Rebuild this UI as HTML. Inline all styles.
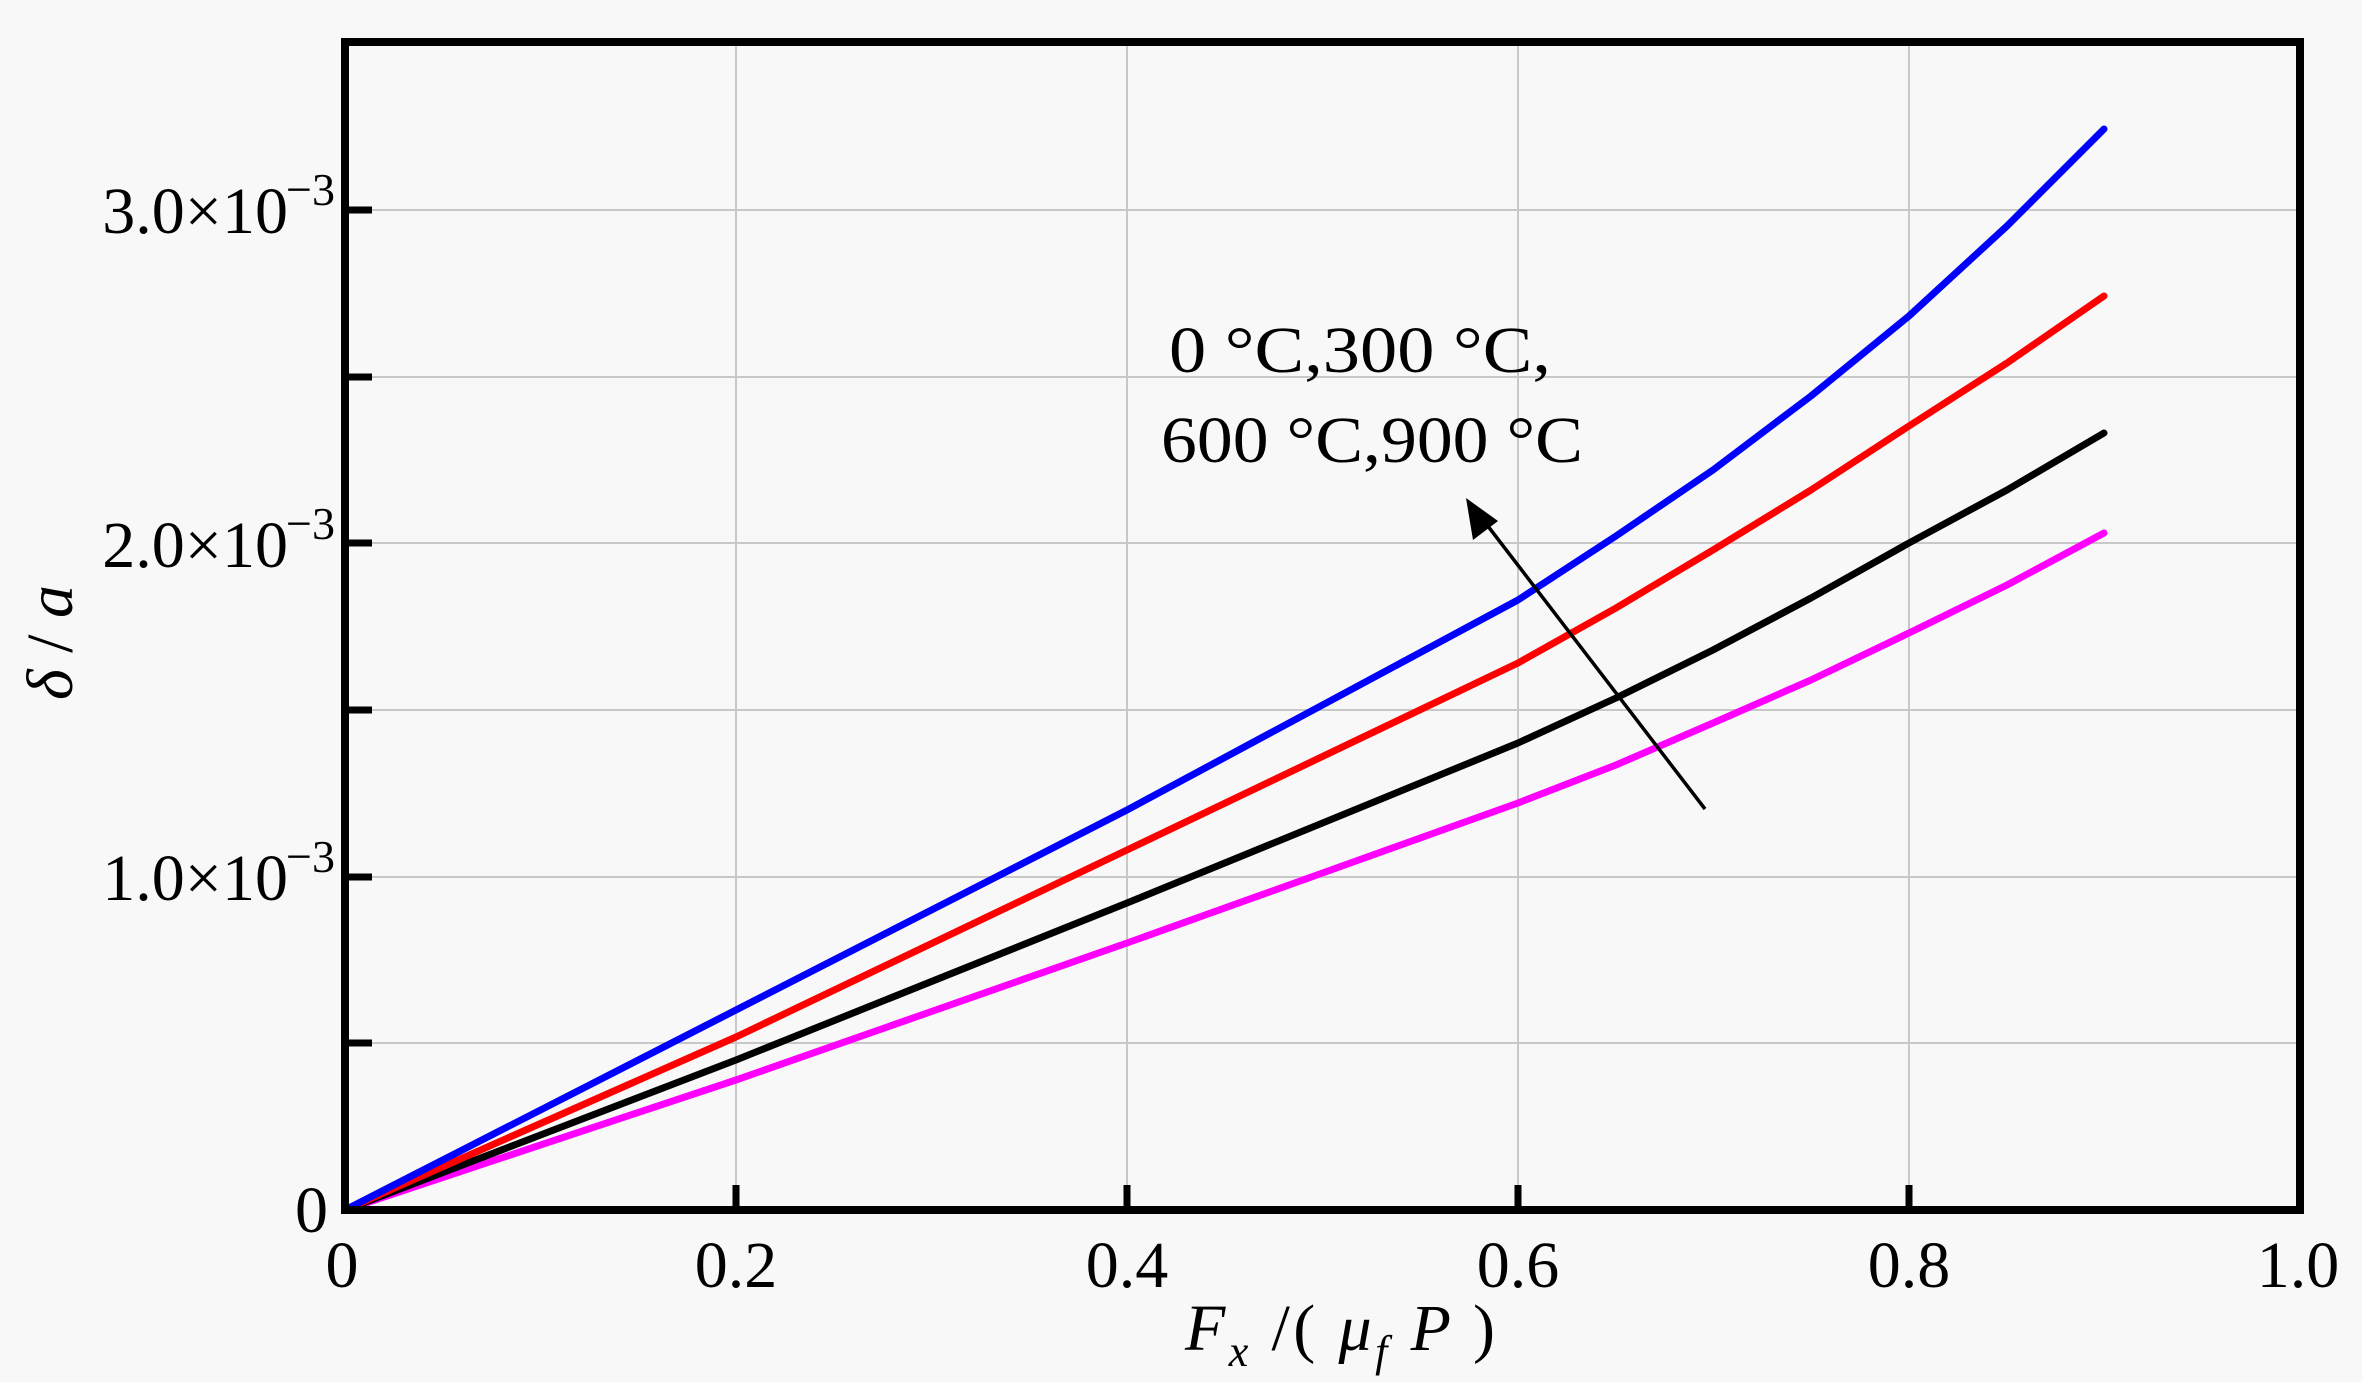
<!DOCTYPE html>
<html><head><style>html,body{margin:0;padding:0;background:#f8f8f8}</style></head>
<body>
<svg width="2362" height="1377" viewBox="0 0 2362 1377" xmlns="http://www.w3.org/2000/svg" font-family="Liberation Serif, serif">
<rect width="2362" height="1377" fill="#f8f8f8"/>
<g stroke="#c8c8c8" stroke-width="2">
<line x1="345" y1="1043" x2="2300" y2="1043"/>
<line x1="345" y1="877" x2="2300" y2="877"/>
<line x1="345" y1="710" x2="2300" y2="710"/>
<line x1="345" y1="543" x2="2300" y2="543"/>
<line x1="345" y1="377" x2="2300" y2="377"/>
<line x1="345" y1="210" x2="2300" y2="210"/>
<line x1="736" y1="42" x2="736" y2="1210"/>
<line x1="1127" y1="42" x2="1127" y2="1210"/>
<line x1="1518" y1="42" x2="1518" y2="1210"/>
<line x1="1909" y1="42" x2="1909" y2="1210"/>
</g>
<g stroke="#000" stroke-width="7">
<line x1="345" y1="1043" x2="372" y2="1043"/>
<line x1="345" y1="877" x2="372" y2="877"/>
<line x1="345" y1="710" x2="372" y2="710"/>
<line x1="345" y1="543" x2="372" y2="543"/>
<line x1="345" y1="377" x2="372" y2="377"/>
<line x1="345" y1="210" x2="372" y2="210"/>
<line x1="736" y1="1210" x2="736" y2="1185"/>
<line x1="1127" y1="1210" x2="1127" y2="1185"/>
<line x1="1518" y1="1210" x2="1518" y2="1185"/>
<line x1="1909" y1="1210" x2="1909" y2="1185"/>
</g>
<g fill="none" stroke-width="7" stroke-linejoin="round" stroke-linecap="round">
<polyline stroke="#ff00ff" points="345,1210 736,1080 1127,943 1518,803 1616,765 1713,723 1811,680 1909,633 2007,585 2104,533"/>
<polyline stroke="#000" points="345,1210 736,1060 1127,903 1518,743 1616,698 1713,650 1811,598 1909,543 2007,490 2104,433"/>
<polyline stroke="#ff0000" points="345,1210 736,1037 1127,850 1518,663 1616,608 1713,550 1811,490 1909,426 2007,363 2104,296"/>
<polyline stroke="#0000ff" points="345,1210 736,1010 1127,810 1518,600 1616,536 1713,470 1811,396 1909,316 2007,226 2104,129"/>
</g>
<rect x="345" y="42" width="1955" height="1168" fill="none" stroke="#000" stroke-width="8"/>
<g font-size="66" fill="#000">
<text x="328" y="1232" text-anchor="end">0</text>
<text x="288" y="900" text-anchor="end">1.0×10</text>
<text x="288" y="567" text-anchor="end">2.0×10</text>
<text x="288" y="233" text-anchor="end">3.0×10</text>
<text x="286" y="872" font-size="46">−3</text>
<text x="286" y="539" font-size="46">−3</text>
<text x="286" y="205" font-size="46">−3</text>
<g text-anchor="middle">
<text x="342" y="1287">0</text>
<text x="736" y="1287">0.2</text>
<text x="1127" y="1287">0.4</text>
<text x="1518" y="1287">0.6</text>
<text x="1909" y="1287">0.8</text>
<text x="2298" y="1287">1.0</text>
</g>
<text x="1169" y="372" font-size="66" textLength="382" lengthAdjust="spacingAndGlyphs">0 °C,300 °C,</text>
<text x="1161" y="462" font-size="66" textLength="422" lengthAdjust="spacingAndGlyphs">600 °C,900 °C</text>
<text x="1185" y="1350" font-size="66" font-style="italic" textLength="310" lengthAdjust="spacing">F<tspan font-size="44" dy="16">x</tspan><tspan dy="-16" font-style="normal"> /( </tspan><tspan>μ</tspan><tspan font-size="44" dy="16">f</tspan><tspan dy="-16"> P </tspan><tspan font-style="normal">)</tspan></text>
<text transform="translate(72,700) rotate(-90)" font-size="66" font-style="italic">δ<tspan font-style="normal"> / </tspan>a</text>
</g>
<line x1="1705" y1="809" x2="1484" y2="521" stroke="#000" stroke-width="3.5"/>
<polygon points="1466,498 1473,540 1498,521" fill="#000"/>
</svg>
</body></html>
